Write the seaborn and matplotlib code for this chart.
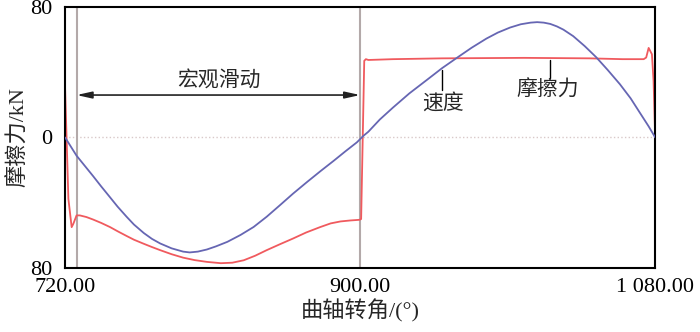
import matplotlib
matplotlib.use("Agg")
import matplotlib.pyplot as plt
import seaborn as sns
import pandas as pd

# crank angle (deg) / speed curve
speed_deg = [720, 723, 727, 732, 737, 742, 747.5, 752, 757.5, 762, 768, 773, 778, 785, 792, 796,
             801, 806.5, 812, 819, 827, 835, 843, 851, 859, 867.5, 876, 884, 891, 898, 902, 905,
             912, 920, 930, 941, 950, 959, 968, 977, 984, 991.5, 998, 1004, 1008, 1012, 1016,
             1020, 1024, 1030, 1037, 1044, 1051, 1058.5, 1065, 1071, 1076, 1080]
speed = [0, -4.8, -11.2, -17.4, -23.6, -30, -36.8, -42.4, -48.6, -53.4, -58.6, -62.2, -65, -68,
         -70, -70.5, -70, -68.7, -66.8, -64, -59.8, -54.9, -48.6, -41.6, -34.5, -27.4, -20.5,
         -14.2, -8.5, -3, 1, 3.5, 11, 18.3, 27, 35.5, 42.5, 48.8, 55, 60.6, 64.3, 67.4, 69.4,
         70.4, 70.7, 70.4, 69.6, 68.1, 66.1, 62.1, 56, 49.2, 41.4, 32.6, 24, 14.6, 6.8, 0]

# friction force (kN)
friction_deg = [720, 720.9, 722, 724, 725, 727, 729, 733, 737, 742, 747.5, 752, 757.5, 762, 768,
                773, 778, 785, 792, 799, 806.5, 815, 822, 829, 836, 843, 851, 859, 867, 875.5,
                882, 888, 894, 899.6, 900.6, 902.5, 903.5, 905, 920, 950, 1000, 1040, 1060, 1073,
                1074.5, 1076, 1078, 1079, 1080]
friction = [30, 0, -37.6, -55, -53, -47.8, -47.8, -48.8, -50.3, -52.4, -55, -57.5, -60.4, -62.7,
            -65.2, -67.2, -69.1, -71.6, -73.7, -75.2, -76.3, -77.1, -76.8, -75.3, -72.5, -69.1,
            -65.5, -62, -58.3, -55, -52.7, -51.5, -50.9, -50.5, -50, 47, 48, 47.5, 48, 48.5,
            48.8, 48.5, 48, 48, 49, 54.9, 51, 34.6, 0]

xticks = [720, 900, 1080]
xtick_labels = ["720.00", "900.00", "1 080.00"]
yticks = [-80, 0, 80]
ytick_labels = ["80", "0", "80"]

slide_start, slide_end = 727, 900

sns.set_style("white")
plt.rcParams["font.family"] = ["Liberation Serif", "Noto Sans CJK SC", "DejaVu Sans"]

fig = plt.figure(figsize=(7, 3.32), dpi=100)
ax = fig.add_axes([0.093, 0.193, 0.843, 0.786])

df_v = pd.DataFrame({"deg": speed_deg, "val": speed})
df_f = pd.DataFrame({"deg": friction_deg, "val": friction})

ax.axhline(0, color="#d9c9c9", lw=1, ls=":", zorder=1)
ax.axvline(slide_start, color="#b3a9a9", lw=1.5, zorder=1)
ax.axvline(slide_end, color="#b3a9a9", lw=1.5, zorder=1)

sns.lineplot(data=df_v, x="deg", y="val", ax=ax, color="#6666b3", lw=1.3, sort=False, zorder=3)
sns.lineplot(data=df_f, x="deg", y="val", ax=ax, color="#f05a5e", lw=1.3, sort=False, zorder=2)

ax.set_xlim(720, 1080)
ax.set_ylim(-80, 80)
ax.set_xticks(xticks)
ax.set_xticklabels(xtick_labels)
ax.set_yticks(yticks)
ax.set_yticklabels(ytick_labels)
ax.tick_params(axis="both", length=0, labelsize=16, colors="black")
ax.tick_params(axis="x", pad=7)
ax.tick_params(axis="y", pad=9)
for s in ax.spines.values():
    s.set_color("black")
    s.set_linewidth(1.5)

ax.set_xlabel("曲轴转角/(°)", fontsize=16, labelpad=2)
ax.set_ylabel("摩擦力/kN", fontsize=16, labelpad=1)

# annotations
ax.annotate("", xy=(slide_start, 26), xytext=(slide_end, 26),
            arrowprops=dict(arrowstyle="<|-|>,head_length=0.9,head_width=0.2",
                            color="#222222", lw=1.2, shrinkA=0, shrinkB=0))
ax.text(814, 34, "宏观滑动", fontsize=15, ha="center", va="center")
ax.plot([950, 950], [41.5, 29.3], color="black", lw=1)
ax.text(950.6, 20.7, "速度", fontsize=15, ha="center", va="center")
ax.plot([1015.9, 1015.9], [47.5, 36.6], color="black", lw=1)
ax.text(1014.7, 28.7, "摩擦力", fontsize=15, ha="center", va="center")

fig.savefig("out.png", dpi=100)
